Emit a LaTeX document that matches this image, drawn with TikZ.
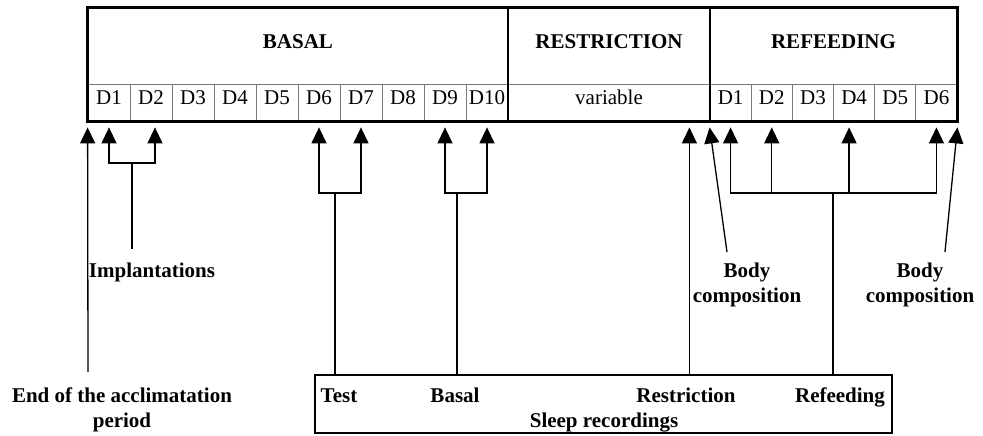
\documentclass[tikz,border=0pt]{standalone}
\usepackage{fontspec}
\setmainfont{Liberation Serif}
\usetikzlibrary{arrows.meta}
\tikzset{
  day/.style={draw=grid, line width=0.8pt, minimum height=37pt, inner sep=0pt, text depth=10pt, font=\fontsize{21}{24}\selectfont},
  phase/.style={draw=grid, line width=0.8pt, minimum height=76pt, inner sep=0pt, text depth=9pt, font=\fontsize{21}{25}\selectfont\bfseries},
  lbl/.style={align=center, inner sep=0pt, font=\fontsize{21}{25}\selectfont\bfseries},
  link/.style={line width=1.3pt},
  arr/.style={line width=1.3pt, -{Triangle[width=15pt,length=16pt]}}
}
\begin{document}
\begin{tikzpicture}[x=1pt,y=-1pt]
\definecolor{grid}{HTML}{7A7A7A}
\useasboundingbox (0,0) rectangle (983,436);
\node[phase, minimum width=420pt] (basal) at (298,46) {BASAL};
\node[phase, minimum width=202pt] (restr) at (609,46) {RESTRICTION};
\node[phase, minimum width=247pt] (refeed) at (833.5,46) {REFEEDING};
\foreach \i in {1,...,10}
  \node[day, minimum width=42pt] (b\i) at ({88+42*\i-21},102.5) {D\i};
\node[day, minimum width=202pt] (var) at (609,102.5) {variable};
\foreach \i in {1,...,6}
  \node[day, minimum width=41.17pt] (r\i) at ({710+41.17*\i-20.58},102.5) {D\i};
\draw[line width=2.6pt] (basal.north west) rectangle (r6.south east);
\draw[line width=2pt] (basal.north east) -- (b10.south east);
\draw[line width=2pt] (restr.north east) -- (var.south east);
\node[lbl] (acclim) at (122,409.6) {End of the acclimatation\\period};
\node[lbl, anchor=base] (implant) at (152,277) {Implantations};
\node[lbl] (body1) at (747,284.6) {Body\\composition};
\node[lbl] (body2) at (920,284.6) {Body\\composition};
\node[draw, link, minimum width=577pt, minimum height=58pt, inner sep=0pt] (sleep) at (603.5,404) {};
\node[lbl, anchor=base] (test) at (339,402) {Test};
\node[lbl, anchor=base] (basalrec) at (455,402) {Basal};
\node[lbl, anchor=base] (restrrec) at (686,402) {Restriction};
\node[lbl, anchor=base] (refeedrec) at (840,402) {Refeeding};
\node[lbl, anchor=base] (sleeplbl) at (604,427) {Sleep recordings};
\coordinate (acclimend) at (88,372);
\coordinate (implend) at (132,249);
\coordinate (jimpl) at (132,163);
\coordinate (jtest) at (335,193);
\coordinate (jbasal) at (457,193);
\coordinate (jrestr) at ([xshift=-21pt,yshift=-6pt]var.south east);
\coordinate (jrefeed) at (833,193);
\coordinate (body1end) at (727,252);
\coordinate (body2end) at (945,252);
\draw[arr] (acclimend) -- ([yshift=-6pt]b1.south west);
\draw[link] (implend) -- (jimpl);
\draw[arr] (jimpl) -| ([yshift=-6pt]b1.south);
\draw[arr] (jimpl) -| ([xshift=4pt,yshift=-6pt]b2.south);
\draw[link] (sleep.north -| jtest) -- (jtest);
\draw[arr] (jtest) -| ([yshift=-6pt]b6.south);
\draw[arr] (jtest) -| ([yshift=-6pt]b7.south);
\draw[link] (sleep.north -| jbasal) -- (jbasal);
\draw[arr] (jbasal) -| ([yshift=-6pt]b9.south);
\draw[arr] (jbasal) -| ([yshift=-6pt]b10.south);
\draw[arr] (sleep.north -| jrestr) -- (jrestr);
\draw[link] (sleep.north -| jrefeed) -- (jrefeed);
\draw[arr] (jrefeed) -| ([yshift=-6pt]r1.south);
\draw[arr] (jrefeed) -| ([yshift=-6pt]r2.south);
\draw[arr] (jrefeed) -| ([xshift=-5pt,yshift=-6pt]r4.south);
\draw[arr] (jrefeed) -| ([yshift=-6pt]r6.south);
\draw[arr] (body1end) -- ([yshift=-6pt]r1.south west);
\draw[arr] (body2end) -- ([yshift=-6pt]r6.south east);
\end{tikzpicture}
\end{document}
